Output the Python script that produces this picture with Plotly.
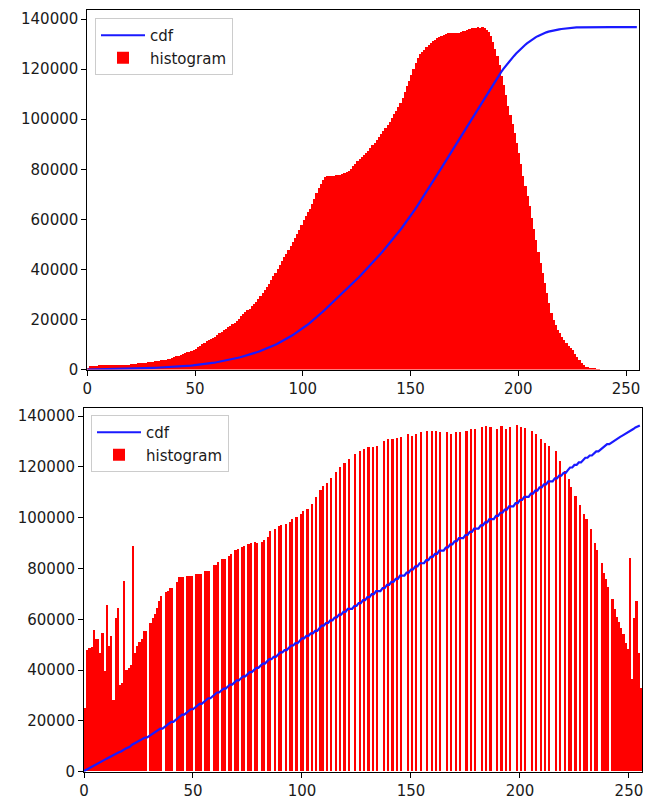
import numpy as np
import plotly.graph_objects as go

# ---------------- data ----------------
bins = list(range(256))

hist_original = [
    800, 1300, 1350, 1400, 1600, 1650, 1700, 1700, 1750, 1700,
    1750, 1700, 1700, 1750, 1800, 1750, 1800, 1800, 1850, 1900,
    2100, 2200, 2300, 2400, 2400, 2500, 2500, 2600, 2900, 3000,
    3100, 3200, 3400, 3500, 3600, 3700, 3800, 4000, 4300, 4600,
    4900, 5200, 5500, 5900, 6200, 6500, 6800, 7100, 7500, 7900,
    8300, 8800, 9500, 10100, 10600, 11200, 11700, 12200, 12600, 13100,
    13700, 14400, 15000, 15600, 16200, 16800, 17400, 18000, 18700, 19400,
    20200, 21200, 22000, 22800, 23600, 24300, 25200, 26100, 27100, 28300,
    29500, 30500, 31700, 32900, 34300, 35800, 37200, 38700, 40200, 41800,
    43300, 44800, 46200, 47600, 49200, 50800, 52500, 54200, 55900, 57700,
    59600, 61300, 62800, 64300, 66000, 68000, 70500, 72500, 74300, 75800,
    76800, 77200, 77400, 77300, 77500, 77600, 77800, 77900, 78200, 78500,
    78800, 79300, 80200, 81200, 82200, 83200, 84000, 84900, 85700, 86500,
    87200, 88400, 89800, 90700, 91600, 92700, 94100, 95200, 96600, 97800,
    99000, 100500, 102000, 103200, 104800, 106500, 108300, 110800, 113300, 115200,
    117800, 120000, 122300, 124300, 125900, 127000, 127800, 128700, 129700, 130500,
    131200, 131800, 132400, 133000, 133400, 133800, 134100, 134400, 134500, 134300,
    134500, 134400, 134600, 134900, 135200, 135300, 135600, 136000, 136500, 136300,
    136400, 136700, 136500, 136800, 136400, 135800, 134800, 133300, 130700, 128000,
    125300, 121500, 117300, 113500, 109500, 105300, 101500, 98000, 94600, 90500,
    86600, 82000, 77500, 73200, 69200, 65200, 60700, 56200, 51800, 47000,
    42500, 38500, 34500, 30500, 26500, 22400, 19800, 17600, 15800, 14400,
    13100, 11800, 10400, 9400, 8500, 7700, 6300, 5000, 3700, 2600,
    1700, 1200, 900, 700, 500, 400, 200, 100, 0, 0,
    0, 0, 0, 0, 0, 0, 0, 0, 0, 0,
    0, 0, 0, 0, 0, 0,
]

hist_equalized = [
    25000, 48000, 48500, 49000, 55800, 52000, 52200, 46700, 54600, 39400,
    65700, 49300, 53200, 28300, 60500, 64400, 34200, 34800, 75000, 40100,
    40800, 42100, 88700, 46700, 49300, 50900, 52200, 55200, 55200, 0,
    58300, 60500, 62000, 64400, 67000, 69000, 0, 70700, 71000, 72300,
    72300, 0, 74400, 76400, 76400, 76400, 0, 77000, 77000, 77000,
    0, 77700, 77700, 77700, 0, 79000, 79000, 79000, 0, 81100,
    81100, 82400, 0, 83700, 83700, 0, 85000, 85700, 0, 87000,
    87500, 0, 88300, 88600, 0, 89400, 90000, 0, 90200, 90100,
    0, 90500, 91000, 0, 92500, 94700, 0, 95600, 0, 96500,
    97000, 0, 97600, 0, 98300, 99400, 0, 100000, 0, 101500,
    102500, 0, 103500, 0, 105500, 0, 108000, 0, 110800, 112400,
    0, 113500, 0, 115500, 0, 118000, 0, 120000, 0, 121600,
    0, 123200, 0, 0, 125000, 0, 126000, 0, 127000, 0,
    127600, 0, 127800, 0, 128200, 0, 0, 130200, 0, 131000,
    0, 131100, 0, 131300, 0, 131500, 0, 0, 132800, 0,
    132100, 0, 132800, 0, 133500, 0, 0, 134100, 0, 134100,
    0, 133900, 0, 133700, 0, 0, 133700, 0, 132800, 0,
    133500, 0, 133700, 0, 0, 134100, 0, 134800, 0, 134800,
    0, 0, 135500, 0, 136100, 0, 135800, 0, 0, 135000,
    0, 136000, 0, 135000, 0, 135500, 0, 0, 136300, 0,
    135800, 0, 135400, 0, 0, 134100, 0, 132800, 0, 131100,
    0, 129500, 0, 128000, 0, 0, 126200, 0, 122300, 0,
    118300, 0, 115100, 112000, 0, 108500, 0, 105000, 0, 101500,
    99400, 0, 95500, 0, 90000, 87000, 0, 82000, 78000, 75700,
    72500, 0, 68000, 64000, 61000, 59000, 56600, 54000, 50700, 48100,
    84200, 36300, 60500, 67000, 46700, 32900,
]

x_ticks = [0, 50, 100, 150, 200, 250]
y_ticks = [0, 20000, 40000, 60000, 80000, 100000, 120000, 140000]

# cumulative distributions, scaled to the histogram maximum (as in the original)
h1 = np.array(hist_original, dtype=float)
h2 = np.array(hist_equalized, dtype=float)
cdf1 = np.cumsum(h1)
cdf1 = cdf1 * h1.max() / cdf1.max()
cdf2 = np.cumsum(h2)
cdf2 = cdf2 * h2.max() / cdf2.max()

# ---------------- figure ----------------
W, H = 645, 800
FONT = "DejaVu Sans"
TXT = "#1a1a1a"

fig = go.Figure()

# top panel
fig.add_trace(go.Scatter(x=bins, y=cdf1, mode="lines", name="cdf",
                         line=dict(color="#1a1aff", width=2.2),
                         xaxis="x", yaxis="y", legend="legend"))
fig.add_trace(go.Bar(x=bins, y=hist_original, width=1, offset=0, name="histogram",
                     marker=dict(color="#ff0000", line=dict(width=0)),
                     xaxis="x", yaxis="y", legend="legend"))
# bottom panel
fig.add_trace(go.Scatter(x=bins, y=cdf2, mode="lines", name="cdf",
                         line=dict(color="#1a1aff", width=2.2),
                         xaxis="x2", yaxis="y2", legend="legend2"))
fig.add_trace(go.Bar(x=bins, y=hist_equalized, width=1, offset=0, name="histogram",
                     marker=dict(color="#ff0000", line=dict(width=0)),
                     xaxis="x2", yaxis="y2", legend="legend2"))

def xax(domain, anchor):
    return dict(domain=domain, anchor=anchor, range=[0, 256], tickvals=x_ticks,
                ticks="outside", ticklen=5, tickcolor="#000", showgrid=False,
                zeroline=False, showline=True, linecolor="#000", linewidth=1,
                mirror=True, automargin=False,
                tickfont=dict(family=FONT, size=15, color=TXT))

def yax(domain, anchor, top):
    return dict(domain=domain, anchor=anchor, range=[0, top], tickvals=y_ticks,
                tickformat="d", ticks="outside", ticklen=5, tickcolor="#000",
                showgrid=False, zeroline=False, showline=True, linecolor="#000",
                linewidth=1, mirror=True, automargin=False,
                tickfont=dict(family=FONT, size=15, color=TXT))

top1 = 1.05 * max(h1.max(), cdf1.max())
top2 = 1.05 * max(h2.max(), cdf2.max())

legend_style = dict(bgcolor="rgba(255,255,255,0.85)", bordercolor="#cccccc",
                    borderwidth=1, font=dict(family=FONT, size=15, color=TXT),
                    xanchor="left", yanchor="top", traceorder="normal",
                    itemwidth=44)

fig.update_layout(
    width=W, height=H,
    margin=dict(l=0, r=0, t=0, b=0, autoexpand=False),
    paper_bgcolor="white", plot_bgcolor="white",
    barmode="overlay", bargap=0,
    showlegend=True,
    xaxis=xax([87.3 / W, 639 / W], "y"),
    yaxis=yax([1 - 369.5 / H, 1 - 10 / H], "x", top1),
    xaxis2=xax([84 / W, 642 / W], "y2"),
    yaxis2=yax([1 - 771.7 / H, 1 - 408.3 / H], "x2", top2),
    legend=dict(x=95 / W, y=1 - 18 / H, **legend_style),
    legend2=dict(x=91 / W, y=1 - 415 / H, **legend_style),
)

fig.write_html("out.html")
